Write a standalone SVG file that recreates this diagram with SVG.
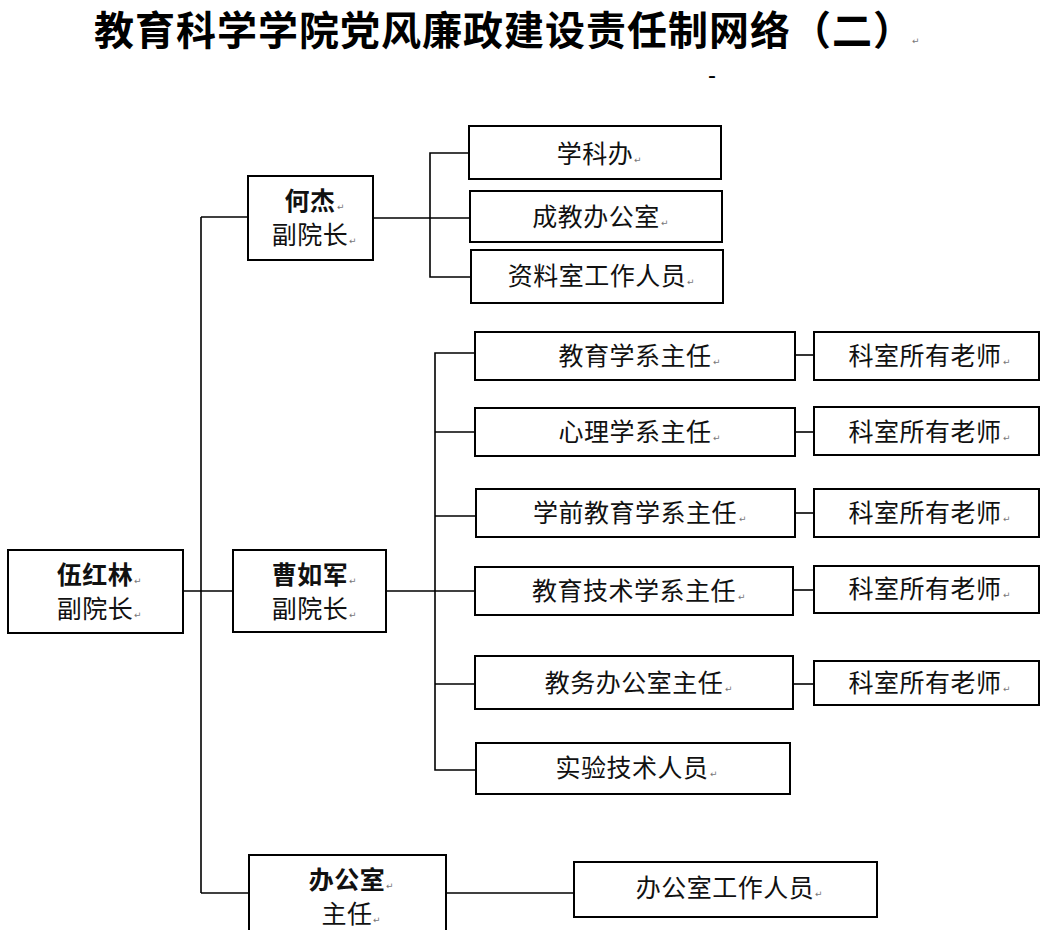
<svg xmlns="http://www.w3.org/2000/svg" width="1050" height="930" viewBox="0 0 1050 930">
<style>
.bx{fill:#fff;stroke:#000;stroke-width:2}
.ln{fill:none;stroke:#000;stroke-width:1.6}
.t{font-family:"Noto Sans CJK SC","Liberation Sans",sans-serif;font-size:25px;letter-spacing:0.5px;fill:#111;text-anchor:middle}
.b{font-weight:bold}
.pm{font-family:"DejaVu Sans",sans-serif;font-size:9px;fill:#777}
.title{font-family:"Noto Sans CJK SC","Liberation Sans",sans-serif;font-size:40px;letter-spacing:1px;font-weight:bold;fill:#000}
</style>
<rect width="1050" height="930" fill="#fff"/>
<text class="title" x="94" y="45">教育科学学院党风廉政建设责任制网络（二）</text>
<text class="pm" x="912" y="44">↵</text>
<text x="712" y="83" font-family="Liberation Sans,sans-serif" font-size="24" text-anchor="middle">-</text>

<g id="connectors">
<line class="ln" x1="201" y1="217" x2="201" y2="893"/>
<line class="ln" x1="174" y1="591" x2="233" y2="591"/>
<line class="ln" x1="201" y1="217" x2="248" y2="217"/>
<line class="ln" x1="201" y1="893" x2="249" y2="893"/>
<line class="ln" x1="373" y1="218" x2="470" y2="218"/>
<polyline class="ln" points="469,153 430,153 430,277 471,277"/>
<line class="ln" x1="386" y1="591" x2="475" y2="591"/>
<polyline class="ln" points="475,353 435,353 435,770 476,770"/>
<line class="ln" x1="435" y1="432" x2="475" y2="432"/>
<line class="ln" x1="435" y1="516" x2="476" y2="516"/>
<line class="ln" x1="435" y1="684" x2="475" y2="684"/>
<line class="ln" x1="795" y1="355" x2="814" y2="355"/>
<line class="ln" x1="795" y1="432" x2="814" y2="432"/>
<line class="ln" x1="795" y1="513" x2="814" y2="513"/>
<line class="ln" x1="793" y1="590" x2="814" y2="590"/>
<line class="ln" x1="793" y1="684" x2="814" y2="684"/>
<line class="ln" x1="446" y1="893" x2="574" y2="893"/>
</g>

<g id="n-wuhonglin">
<rect class="bx" x="8" y="550" width="175" height="83"/>
<text class="t b" x="95" y="584">伍红林</text><text class="pm" x="134" y="584">↵</text>
<text class="t" x="95" y="618">副院长</text><text class="pm" x="134" y="618">↵</text>
</g>
<g id="n-hejie">
<rect class="bx" x="248" y="176" width="125" height="84"/>
<text class="t b" x="310" y="210">何杰</text><text class="pm" x="337" y="210">↵</text>
<text class="t" x="310" y="244">副院长</text><text class="pm" x="349" y="244">↵</text>
</g>
<g id="n-caorujun">
<rect class="bx" x="233" y="550" width="153" height="82"/>
<text class="t b" x="310" y="584">曹如军</text><text class="pm" x="349" y="584">↵</text>
<text class="t" x="310" y="618">副院长</text><text class="pm" x="349" y="618">↵</text>
</g>
<g id="n-bangongshi">
<rect class="bx" x="249" y="855" width="197" height="85"/>
<text class="t b" x="347" y="889">办公室</text><text class="pm" x="386" y="889">↵</text>
<text class="t" x="347" y="923">主任</text><text class="pm" x="373" y="923">↵</text>
</g>

<g id="n-xuekeban">
<rect class="bx" x="469" y="126" width="252" height="53"/>
<text class="t" x="595" y="163">学科办</text><text class="pm" x="634" y="163">↵</text>
</g>
<g id="n-chengjiao">
<rect class="bx" x="470" y="191" width="252" height="51"/>
<text class="t" x="596" y="226">成教办公室</text><text class="pm" x="661" y="226">↵</text>
</g>
<g id="n-ziliaoshi">
<rect class="bx" x="471" y="250" width="252" height="53"/>
<text class="t" x="597" y="285">资料室工作人员</text><text class="pm" x="687" y="285">↵</text>
</g>

<g id="n-jiaoyuxue">
<rect class="bx" x="475" y="332" width="320" height="48"/>
<text class="t" x="635" y="365">教育学系主任</text><text class="pm" x="713" y="365">↵</text>
</g>
<g id="n-xinli">
<rect class="bx" x="475" y="408" width="320" height="48"/>
<text class="t" x="635" y="441">心理学系主任</text><text class="pm" x="713" y="441">↵</text>
</g>
<g id="n-xueqian">
<rect class="bx" x="476" y="489" width="319" height="48"/>
<text class="t" x="635" y="522">学前教育学系主任</text><text class="pm" x="739" y="522">↵</text>
</g>
<g id="n-jishu">
<rect class="bx" x="475" y="567" width="318" height="48"/>
<text class="t" x="634" y="600">教育技术学系主任</text><text class="pm" x="738" y="600">↵</text>
</g>
<g id="n-jiaowu">
<rect class="bx" x="475" y="656" width="318" height="53"/>
<text class="t" x="634" y="692">教务办公室主任</text><text class="pm" x="725" y="692">↵</text>
</g>
<g id="n-shiyan">
<rect class="bx" x="476" y="743" width="314" height="51"/>
<text class="t" x="632" y="777">实验技术人员</text><text class="pm" x="710" y="777">↵</text>
</g>

<g id="n-teachers1">
<rect class="bx" x="814" y="332" width="225" height="48"/>
<text class="t" x="925" y="365">科室所有老师</text><text class="pm" x="1003" y="365">↵</text>
</g>
<g id="n-teachers2">
<rect class="bx" x="814" y="407" width="225" height="48"/>
<text class="t" x="925" y="441">科室所有老师</text><text class="pm" x="1003" y="441">↵</text>
</g>
<g id="n-teachers3">
<rect class="bx" x="814" y="489" width="225" height="48"/>
<text class="t" x="925" y="522">科室所有老师</text><text class="pm" x="1003" y="522">↵</text>
</g>
<g id="n-teachers4">
<rect class="bx" x="814" y="566" width="225" height="47"/>
<text class="t" x="925" y="598">科室所有老师</text><text class="pm" x="1003" y="598">↵</text>
</g>
<g id="n-teachers5">
<rect class="bx" x="814" y="661" width="225" height="44"/>
<text class="t" x="925" y="692">科室所有老师</text><text class="pm" x="1003" y="692">↵</text>
</g>

<g id="n-staff">
<rect class="bx" x="574" y="862" width="303" height="55"/>
<text class="t" x="725" y="897">办公室工作人员</text><text class="pm" x="815" y="897">↵</text>
</g>
</svg>
